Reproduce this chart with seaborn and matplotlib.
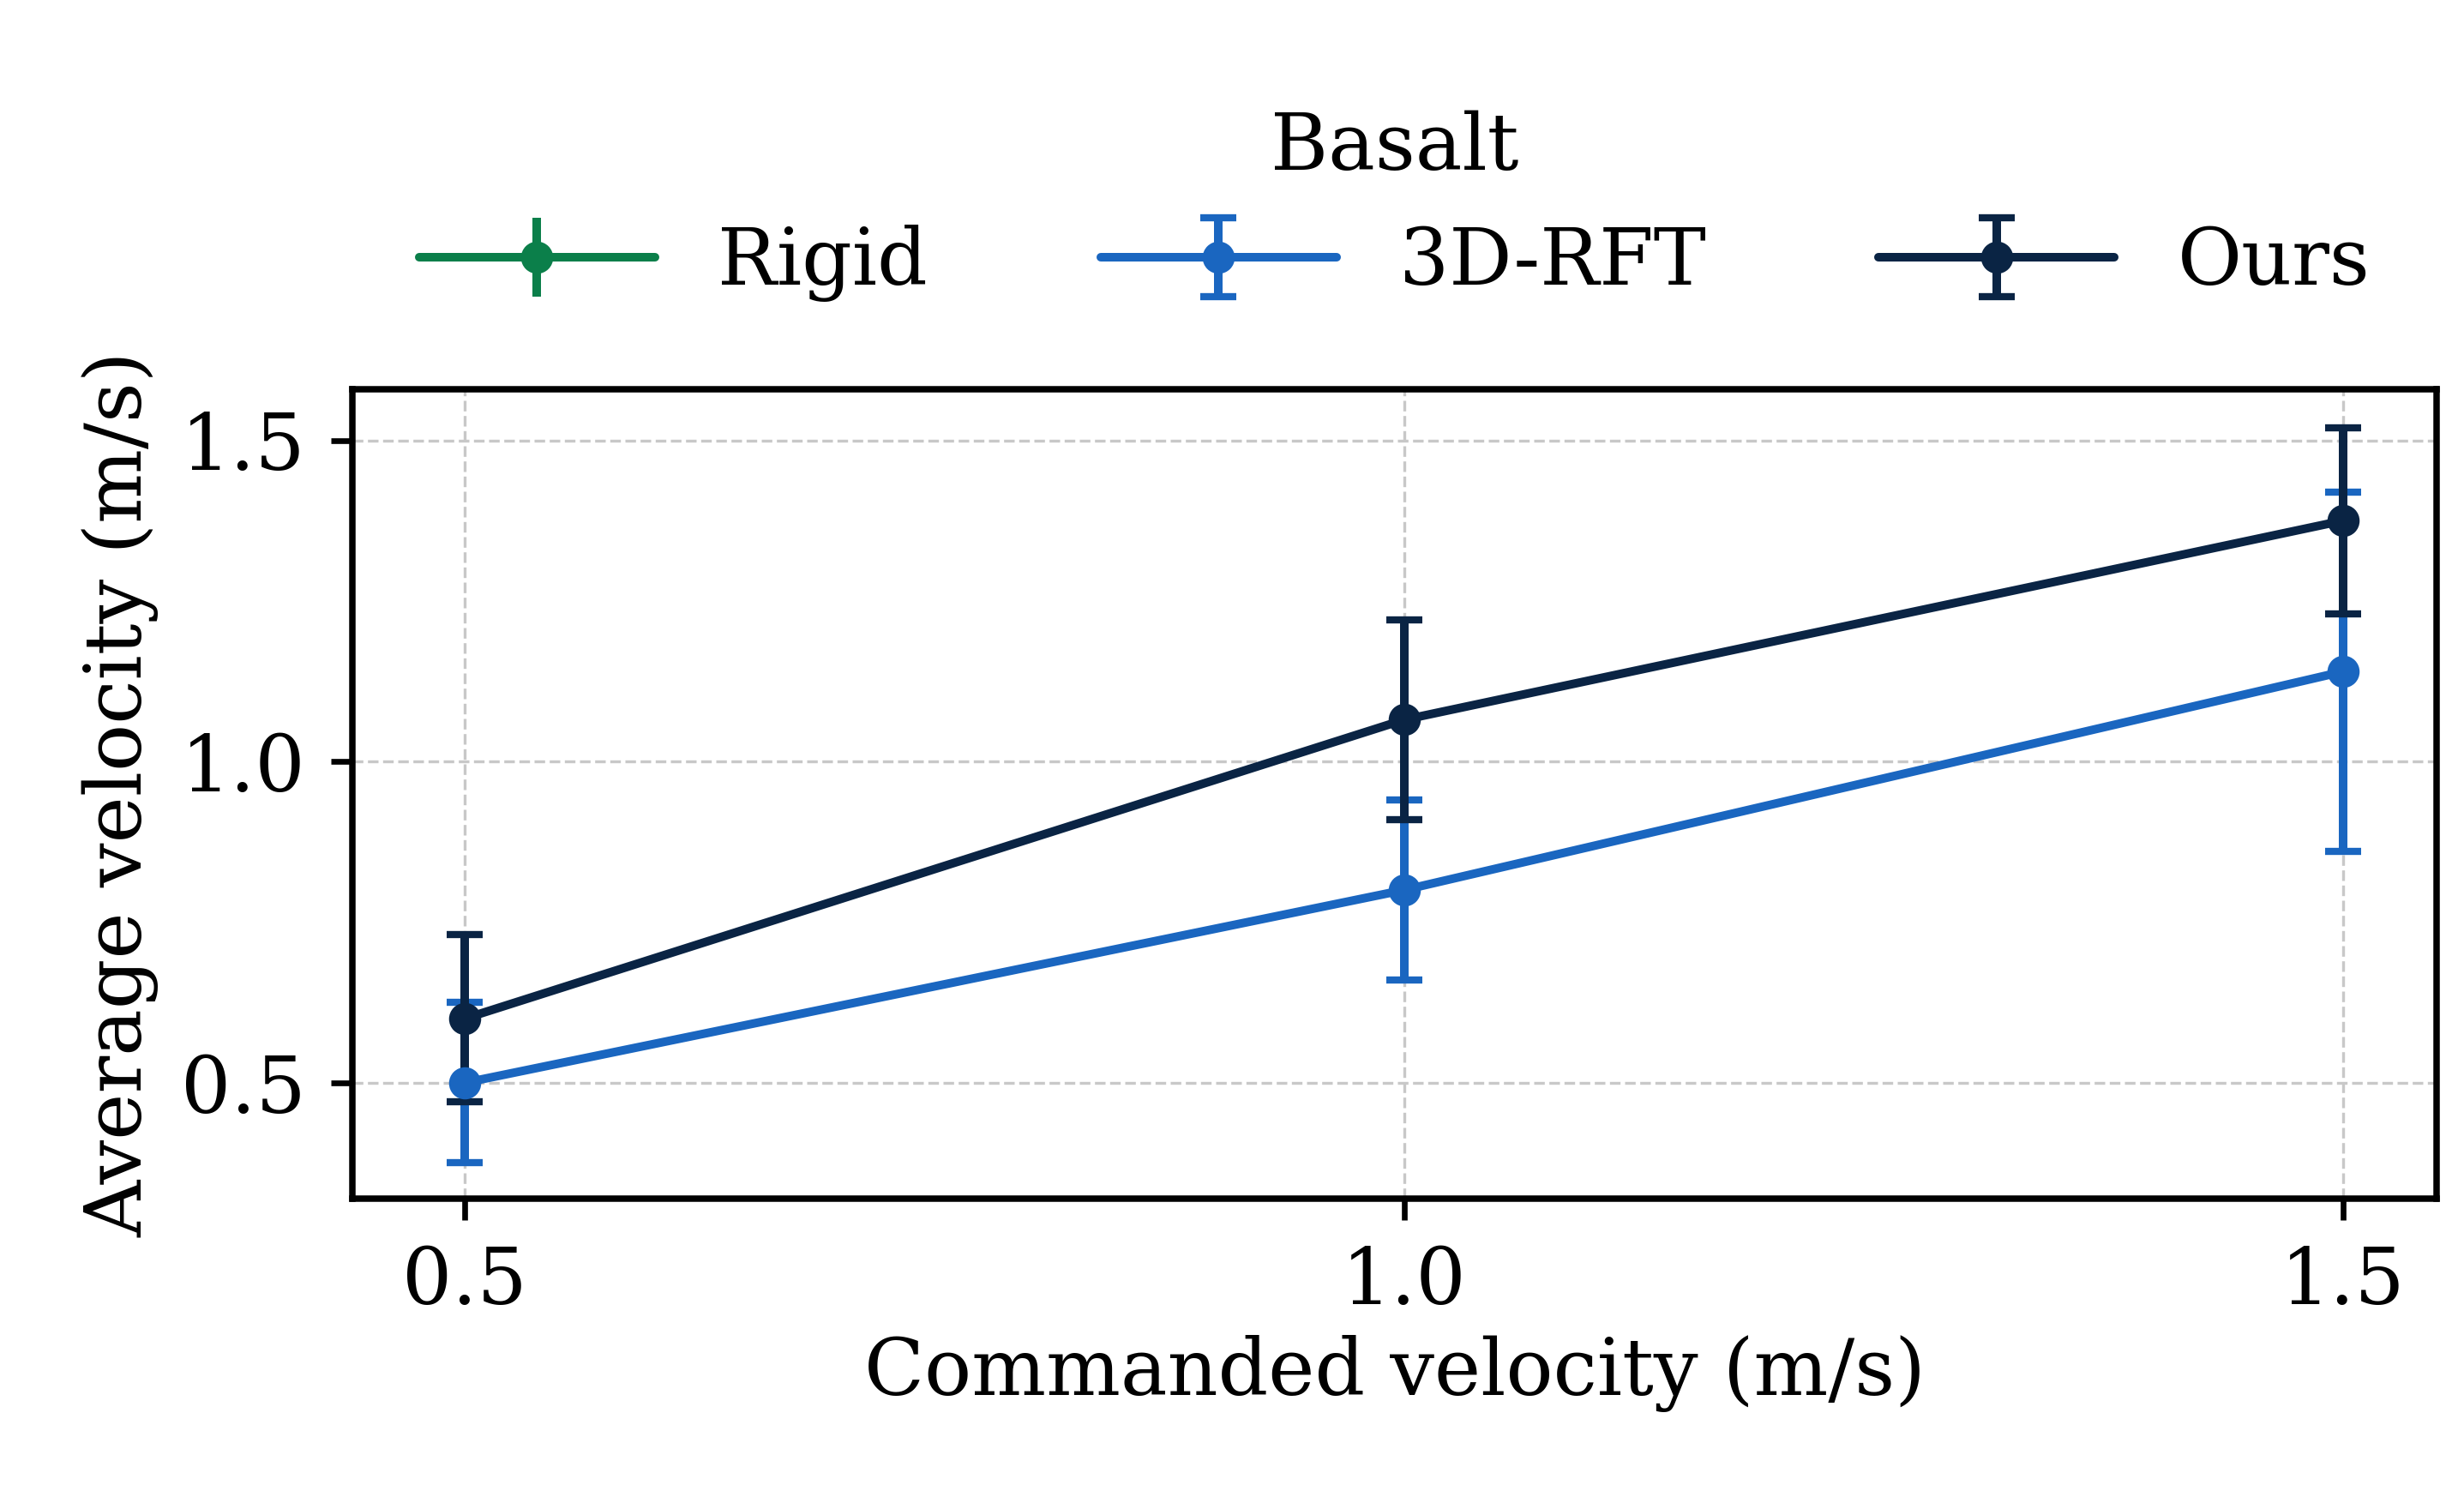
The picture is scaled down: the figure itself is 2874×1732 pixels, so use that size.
import matplotlib
matplotlib.use("Agg")
import matplotlib.pyplot as plt
import seaborn as sns
import numpy as np

commanded = [0.5, 1.0, 1.5]
rigid_mean = []
rigid_err = []
rft_mean = [0.50, 0.80, 1.14]
rft_err = [0.125, 0.14, 0.28]
ours_mean = [0.60, 1.065, 1.375]
ours_err = [0.13, 0.155, 0.145]

sns.set_style("ticks")
plt.rcParams['font.family'] = ['DejaVu Serif']
plt.rcParams['font.size'] = 11
for k in ['text.color', 'axes.labelcolor', 'xtick.color', 'ytick.color', 'axes.edgecolor']:
    plt.rcParams[k] = 'black'

fig = plt.figure(figsize=(4.79, 2.887), dpi=600)
ax = fig.add_axes([0.143, 0.193, 0.846, 0.545])

colors = {"Rigid": "#0b7f4a", "3D-RFT": "#1a66c0", "Ours": "#0a2444"}
series = [("Rigid", [], rigid_mean, rigid_err),
          ("3D-RFT", commanded, rft_mean, rft_err),
          ("Ours", commanded, ours_mean, ours_err)]
for name, x, y, e in series:
    ax.errorbar(x, y, yerr=e, color=colors[name], marker='o', markersize=3.5,
                lw=1.2, capsize=2.5, capthick=1.0, elinewidth=1.2, label=name)

ax.set_xlim(0.44, 1.55)
ax.set_ylim(0.32, 1.58)
ax.set_xticks([0.5, 1.0, 1.5])
ax.set_yticks([0.5, 1.0, 1.5])
ax.grid(True, ls='--', lw=0.4, color='#c8c8c8')
for s in ax.spines.values():
    s.set_linewidth(0.9)
ax.tick_params(width=0.8, length=3, labelsize=11)
ax.set_xlabel("Commanded velocity (m/s)", fontsize=11, labelpad=2)
ax.set_ylabel("Average velocity (m/s)", fontsize=11, labelpad=3)
leg = ax.legend(title="Basalt", ncol=3, frameon=False, loc='lower center',
                bbox_to_anchor=(0.5, 1.02), fontsize=11, title_fontsize=11,
                columnspacing=2.2, handlelength=3.0)
fig.savefig("out.png", dpi=600)
